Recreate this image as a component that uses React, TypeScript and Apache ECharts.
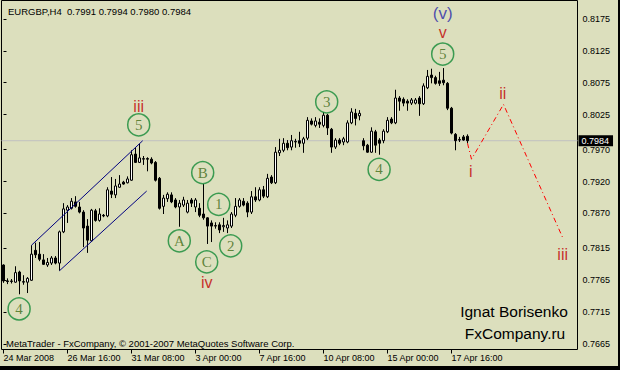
import React, { useEffect, useRef } from 'react';
import * as echarts from 'echarts';

const titleText = 'EURGBP,H4  0.7991 0.7994 0.7980 0.7984';
const copyrightText = 'MetaTrader - FxCompany, \u00A9 2001-2007 MetaQuotes Software Corp.';
const authorText = 'Ignat Borisenko';
const siteText = 'FxCompany.ru';

const slotCount = 144;
const tickEvery = 16;
const tickLabels = ['24 Mar 2008', '26 Mar 16:00', '31 Mar 08:00', '3 Apr 00:00', '7 Apr 16:00', '10 Apr 08:00', '15 Apr 00:00', '17 Apr 16:00'];
const priceTicks = [0.7665, 0.7715, 0.7765, 0.7815, 0.787, 0.792, 0.797, 0.8025, 0.8075, 0.8125, 0.8175];
const priceMin = 0.76564;
const priceMax = 0.8204;
const bidPrice = 0.7984;

// [open, close, low, high]
const candles = [
  [0.7789, 0.7764, 0.7761, 0.7790], [0.7764, 0.7763, 0.7759, 0.7768], [0.7763, 0.7764, 0.7760, 0.7767],
  [0.7762, 0.7777, 0.7761, 0.7787], [0.7778, 0.7764, 0.7743, 0.7780], [0.7762, 0.7763, 0.7758, 0.7773],
  [0.7762, 0.7768, 0.7745, 0.7770], [0.7765, 0.7806, 0.7764, 0.7820], [0.7812, 0.7805, 0.7800, 0.7824],
  [0.7806, 0.7798, 0.7795, 0.7825], [0.7797, 0.7790, 0.7789, 0.7806], [0.7789, 0.7793, 0.7786, 0.7800],
  [0.7792, 0.7800, 0.7789, 0.7803], [0.7800, 0.7792, 0.7790, 0.7803], [0.7792, 0.7841, 0.7780, 0.7843],
  [0.7841, 0.7877, 0.7839, 0.7886], [0.7875, 0.7880, 0.7855, 0.7883], [0.7878, 0.7889, 0.7876, 0.7894],
  [0.7888, 0.7881, 0.7879, 0.7897], [0.7880, 0.7872, 0.7870, 0.7888], [0.7872, 0.7847, 0.7817, 0.7875],
  [0.7850, 0.7828, 0.7808, 0.7861], [0.7827, 0.7875, 0.7825, 0.7877], [0.7874, 0.7859, 0.7857, 0.7877],
  [0.7859, 0.7869, 0.7857, 0.7878], [0.7867, 0.7866, 0.7864, 0.7869], [0.7866, 0.7907, 0.7864, 0.7911],
  [0.7905, 0.7900, 0.7894, 0.7927], [0.7899, 0.7913, 0.7894, 0.7924], [0.7911, 0.7916, 0.7910, 0.7930],
  [0.7919, 0.7916, 0.7915, 0.7921], [0.7918, 0.7924, 0.7917, 0.7928], [0.7922, 0.7962, 0.7921, 0.7969],
  [0.7963, 0.7950, 0.7949, 0.7973], [0.7950, 0.7957, 0.7949, 0.7979], [0.7955, 0.7956, 0.7946, 0.7960],
  [0.7956, 0.7955, 0.7936, 0.7958], [0.7955, 0.7949, 0.7947, 0.7958], [0.7950, 0.7922, 0.7920, 0.7952],
  [0.7925, 0.7878, 0.7876, 0.7927], [0.7881, 0.7894, 0.7869, 0.7899], [0.7893, 0.7900, 0.7888, 0.7903],
  [0.7899, 0.7888, 0.7886, 0.7903], [0.7891, 0.7880, 0.7878, 0.7894], [0.7880, 0.7886, 0.7849, 0.7891],
  [0.7883, 0.7891, 0.7880, 0.7896], [0.7872, 0.7886, 0.7870, 0.7891], [0.7891, 0.7886, 0.7880, 0.7894],
  [0.7880, 0.7891, 0.7872, 0.7894], [0.7878, 0.7867, 0.7864, 0.7886], [0.7869, 0.7863, 0.7860, 0.7916],
  [0.7863, 0.7850, 0.7822, 0.7864], [0.7855, 0.7850, 0.7825, 0.7859], [0.7850, 0.7851, 0.7846, 0.7856],
  [0.7852, 0.7844, 0.7839, 0.7856], [0.7849, 0.7851, 0.7841, 0.7863], [0.7847, 0.7852, 0.7839, 0.7859],
  [0.7850, 0.7869, 0.7847, 0.7872], [0.7867, 0.7881, 0.7864, 0.7894], [0.7881, 0.7891, 0.7879, 0.7894],
  [0.7889, 0.7883, 0.7881, 0.7894], [0.7886, 0.7872, 0.7864, 0.7889], [0.7872, 0.7896, 0.7869, 0.7905],
  [0.7896, 0.7891, 0.7888, 0.7911], [0.7891, 0.7907, 0.7889, 0.7911], [0.7907, 0.7897, 0.7894, 0.7913],
  [0.7896, 0.7925, 0.7894, 0.7932], [0.7927, 0.7918, 0.7916, 0.7930], [0.7918, 0.7966, 0.7916, 0.7974],
  [0.7965, 0.7969, 0.7960, 0.7987], [0.7969, 0.7980, 0.7966, 0.7988], [0.7980, 0.7973, 0.7969, 0.7985],
  [0.7974, 0.7984, 0.7969, 0.7993], [0.7982, 0.7983, 0.7973, 0.7987], [0.7984, 0.7980, 0.7974, 0.7998],
  [0.7980, 0.7987, 0.7965, 0.7990], [0.7988, 0.8016, 0.7985, 0.8021], [0.8015, 0.8010, 0.8008, 0.8019],
  [0.8008, 0.8015, 0.8005, 0.8021], [0.8013, 0.8010, 0.8004, 0.8019], [0.8008, 0.8024, 0.8005, 0.8029],
  [0.8024, 0.8004, 0.7993, 0.8026], [0.8002, 0.7974, 0.7965, 0.8004], [0.7974, 0.7985, 0.7971, 0.7988],
  [0.7985, 0.7980, 0.7977, 0.7988], [0.7982, 0.7987, 0.7977, 0.7990], [0.7982, 0.8012, 0.7980, 0.8016],
  [0.8012, 0.8029, 0.8010, 0.8035], [0.8027, 0.8019, 0.8008, 0.8034], [0.8023, 0.8027, 0.8016, 0.8032],
  [0.7984, 0.7976, 0.7969, 0.7988], [0.7977, 0.7966, 0.7965, 0.7979], [0.7966, 0.7999, 0.7965, 0.8005],
  [0.7998, 0.7977, 0.7965, 0.8001], [0.7985, 0.7980, 0.7962, 0.7988], [0.7984, 0.7999, 0.7980, 0.8002],
  [0.7998, 0.8016, 0.7996, 0.8021], [0.8018, 0.8012, 0.8010, 0.8021], [0.8012, 0.8051, 0.8010, 0.8064],
  [0.8051, 0.8046, 0.8031, 0.8054], [0.8049, 0.8043, 0.8038, 0.8052], [0.8046, 0.8043, 0.8031, 0.8049],
  [0.8043, 0.8048, 0.8040, 0.8051], [0.8043, 0.8048, 0.8041, 0.8051], [0.8051, 0.8042, 0.8023, 0.8054],
  [0.8042, 0.8070, 0.8040, 0.8074], [0.8067, 0.8085, 0.8065, 0.8095], [0.8087, 0.8083, 0.8074, 0.8097],
  [0.8083, 0.8074, 0.8072, 0.8086], [0.8078, 0.8074, 0.8070, 0.8092], [0.8079, 0.8075, 0.8071, 0.8098],
  [0.8074, 0.8035, 0.8032, 0.8076], [0.8035, 0.7996, 0.7994, 0.8037], [0.7994, 0.7984, 0.7969, 0.7996],
  [0.7985, 0.7986, 0.7982, 0.7990], [0.7990, 0.7985, 0.7984, 0.7993], [0.7991, 0.7984, 0.7980, 0.7994],
];

// [bar index, price]
const channelUpper = [[7, 0.782], [34.8, 0.7984]];
const channelLower = [[14, 0.778], [35.8, 0.7905]];
const projection = [[116, 0.798], [117, 0.7955], [125, 0.8041], [140, 0.7829]];

// [bar index, price, label]
const circledWaves: [number, number, string][] = [
  [3.9, 0.772, '4'], [33.8, 0.8009, '5'], [43.95, 0.7827, 'A'], [49.8, 0.7934, 'B'],
  [50.8, 0.7794, 'C'], [53.8, 0.7884, '1'], [56.8, 0.7819, '2'], [80.8, 0.8045, '3'],
  [93.9, 0.7939, '4'], [109.8, 0.812, '5'],
];
const minorWaves: [number, number, string][] = [
  [33.8, 0.8038, 'iii'], [50.8, 0.7761, 'iv'], [109.8, 0.8154, 'v'],
  [116.8, 0.7935, 'i'], [124.8, 0.8058, 'ii'], [139.8, 0.7805, 'iii'],
];
const majorWaves: [number, number, string][] = [[109.8, 0.8183, '(v)']];

const categories = Array.from({ length: slotCount }, (_, i) => String(i));
const BG = '#DCDFBD';
const SANS = '"Liberation Sans", Arial, sans-serif';

export default function App() {
  const ref = useRef<HTMLDivElement>(null);
  useEffect(() => {
    document.body.style.margin = '0';
    if (!ref.current) return;
    const chart = echarts.init(ref.current, null, { renderer: 'svg' });
    const showTick = (index: number) => index % tickEvery === 0 && index / tickEvery < tickLabels.length;
    const toItems = (arr: [number, number, string][]) => arr.map(([x, y, t]) => ({ name: t, value: [x, y] }));
    chart.setOption({
      animation: false,
      backgroundColor: BG,
      grid: { left: 1.5, top: 0.5, width: 576, height: 349, show: true, borderColor: '#000', borderWidth: 1, backgroundColor: 'transparent' },
      xAxis: [
        {
          type: 'category', data: categories, boundaryGap: true,
          axisLine: { show: false },
          axisTick: { show: true, interval: showTick, alignWithLabel: true, length: 4, lineStyle: { color: '#000' } },
          axisLabel: {
            interval: showTick, align: 'left', margin: 4, color: '#000', fontSize: 9, fontFamily: SANS,
            formatter: (_v: string, index: number) => (showTick(index) ? tickLabels[index / tickEvery] : ''),
          },
          splitLine: { show: false },
        },
        { type: 'value', min: -0.5, max: slotCount - 0.5, show: false },
      ],
      yAxis: {
        type: 'value', position: 'right', min: priceMin, max: priceMax, scale: true,
        splitLine: { show: false }, axisLine: { show: false },
        axisTick: { show: true, customValues: priceTicks, length: 3, lineStyle: { color: '#000' } },
        axisLabel: { customValues: priceTicks, formatter: (v: number) => v.toFixed(4), color: '#000', fontSize: 9, fontFamily: SANS, margin: 5 },
      },
      series: [
        {
          type: 'line', xAxisIndex: 1, data: [[-0.5, bidPrice], [slotCount - 0.5, bidPrice]], symbol: 'none', silent: true,
          lineStyle: { color: '#C0C0C0', width: 1 }, z: 1,
          endLabel: { show: true, formatter: bidPrice.toFixed(4), backgroundColor: '#000', color: '#fff', padding: [1, 4, 1, 3], distance: 1, fontSize: 9, fontFamily: SANS },
        },
        {
          type: 'candlestick', xAxisIndex: 0, data: candles, barWidth: 2,
          itemStyle: { color: '#fff', color0: '#000', borderColor: '#000', borderColor0: '#000', borderWidth: 1 },
          z: 3,
        },
        { type: 'line', xAxisIndex: 1, data: channelUpper, symbol: 'none', lineStyle: { color: '#000080', width: 1 }, z: 4 },
        { type: 'line', xAxisIndex: 1, data: channelLower, symbol: 'none', lineStyle: { color: '#000080', width: 1 }, z: 4 },
        { type: 'line', xAxisIndex: 1, data: projection, symbol: 'none', lineStyle: { color: '#FF0000', width: 1, type: [5, 3, 1, 3] }, z: 4 },
        {
          type: 'scatter', xAxisIndex: 1, data: toItems(circledWaves), symbol: 'circle', symbolSize: 22,
          itemStyle: { color: 'rgba(0,0,0,0)', borderColor: '#138A36', borderWidth: 1.5 },
          label: { show: true, position: 'inside', formatter: '{b}', color: '#3F6B16', fontSize: 15, fontFamily: '"Liberation Serif", serif' },
          z: 5,
        },
        {
          type: 'scatter', xAxisIndex: 1, data: toItems(minorWaves), symbol: 'circle', symbolSize: 1,
          itemStyle: { color: 'rgba(0,0,0,0)' },
          label: { show: true, position: 'inside', formatter: '{b}', color: '#C00000', fontSize: 16, fontFamily: SANS },
          z: 5,
        },
        {
          type: 'scatter', xAxisIndex: 1, data: toItems(majorWaves), symbol: 'circle', symbolSize: 1,
          itemStyle: { color: 'rgba(0,0,0,0)' },
          label: { show: true, position: 'inside', formatter: '{b}', color: '#2828A8', fontSize: 17, fontFamily: SANS },
          z: 5,
        },
      ],
      graphic: [
        { type: 'text', x: 8, y: 11, style: { text: titleText, fill: '#000', fontSize: 9.5, fontFamily: SANS, textVerticalAlign: 'middle' } },
        { type: 'text', x: 6, y: 343, style: { text: copyrightText, fill: '#000', fontSize: 9.5, fontFamily: SANS, textVerticalAlign: 'middle' } },
        { type: 'text', x: 514, y: 311, style: { text: authorText, fill: '#000', fontSize: 15.5, fontFamily: SANS, textAlign: 'center', textVerticalAlign: 'middle' } },
        { type: 'text', x: 515, y: 333, style: { text: siteText, fill: '#000', fontSize: 15.5, fontFamily: SANS, textAlign: 'center', textVerticalAlign: 'middle' } },
        { type: 'rect', shape: { x: 618, y: 0, width: 2, height: 370 }, style: { fill: '#000' } },
        { type: 'rect', shape: { x: 0, y: 366, width: 620, height: 4 }, style: { fill: '#000' } },
      ],
    });
    return () => chart.dispose();
  }, []);
  return <div ref={ref} style={{ width: 620, height: 370, background: BG }} />;
}
